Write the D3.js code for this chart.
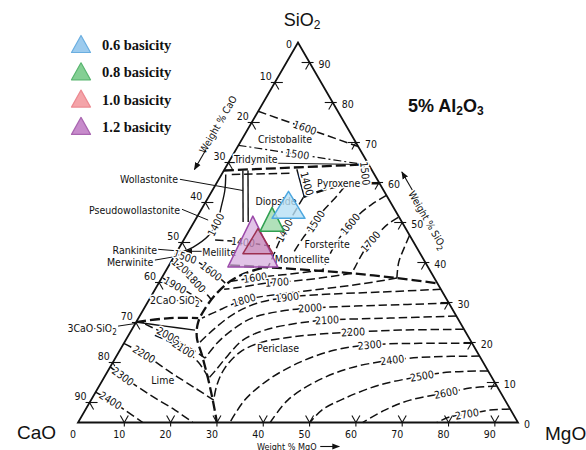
<!DOCTYPE html>
<html>
<head>
<meta charset="utf-8">
<script src="https://cdn.jsdelivr.net/npm/d3@7/dist/d3.min.js"></script>
<style>
  html, body { margin: 0; padding: 0; background: #fff; }
  svg { display: block; }
  .narrow { font-family: "Liberation Sans Narrow", "DejaVu Sans Condensed", "Arial Narrow", sans-serif; fill: #111; }
  .halo { stroke: #fff; stroke-width: 3px; paint-order: stroke; stroke-linejoin: round; }
  .big { font-family: "Liberation Sans", Arial, sans-serif; fill: #111; }
  .legend { font-family: "Liberation Serif", "Times New Roman", serif; font-weight: bold; fill: #111; }
</style>
</head>
<body>
<svg id="chart" width="586" height="450"></svg>
<script>
// CaO–MgO–SiO2 liquidus section at 5 % Al2O3.
// Every composition is [MgO, SiO2] in weight %; CaO is the remainder of 95 %.
const TOTAL = 95;
const tickValues = [0, 10, 20, 30, 40, 50, 60, 70, 80, 90];

// Slag compositions by basicity
const basicity = ["0.6", "0.8", "1.0", "1.2"];
const slagMgO  = [18.8, 17.0, 16.7, 16.2];
const slagSiO2 = [53.3, 49.8, 44.3, 43.1];

// --- silica, tridymite and pyroxene region ---
const iso1600Silica = [[0, 77.8], [26, 69]];
const inversionCristobaliteTridymite = [[0, 69.3], [29.5, 64.5]];
const tridymiteLower = [[0, 65], [29.5, 64.5]];
const tridymiteLiquidus = [[0, 63], [29.5, 64.5]];
const wollastoniteTop = [[2.2, 62.0], [15.0, 62.3]];
const wollastoniteDiopsideA = [[4.1, 63], [10.6, 50.1]];
const wollastoniteDiopsideB = [[5.2, 63], [11.7, 50.1]];
const tridymiteDiopside = [[15.6, 63.3], [20.5, 56.6]];
const pyroxeneForsterite = [[20.5, 56.3], [25.1, 58.6], [30, 59.6], [35.2, 59.8]];
const iso1500Pyroxene = [[29.5, 64.5], [32.3, 59.8]];
const diopsideForsterite = [[20.5, 56.3], [20.5, 50.6], [20.8, 45.6], [21.4, 41.1], [21.6, 38.8]];

// --- wollastonite, melilite and dicalcium silicate region ---
const pseudowollastoniteBoundary = [[0.9, 62.0], [2.7, 58.0], [4.0, 53.8], [5.0, 50.1], [4.8, 46.6], [2.9, 43.8], [1.3, 42.8]];
const iso1400Melilite = [[6.8, 45.6], [13.1, 45.1], [19.4, 44.1]];
const isoMelilite = [[0.1, 42.1], [2.7, 41.3], [5.9, 40.1], [9.8, 37.8], [13.3, 35.6], [14.7, 34.6]];
const isoC2SUpper = [[0, 40.3], [3.0, 38.8], [7.6, 35.3], [12.1, 31.8], [13.3, 30.8]];
const isoC2SLower = [[0.3, 36.1], [3.8, 34.3], [8.0, 32.3], [11.9, 30.1]];
const c3sUpper = [[0, 25.1], [6.8, 26.1], [12.9, 26.1]];
const c3sLower = [[0, 25.1], [6.7, 24.1], [13.7, 23.1]];

// --- lime field isotherms ---
const iso2000Lime = [[2.2, 24.6], [8.5, 21.8], [14.9, 18.6], [19.4, 16.1]];
const iso2100Lime = [[5.7, 21.8], [13.5, 18.4], [18.4, 15.1], [22.7, 11.1]];
const iso2200Lime = [[0, 19.8], [6.0, 16.9], [13.6, 12.6], [21.0, 8.6], [26.5, 5.6]];
const iso2300Lime = [[0, 13.9], [4.6, 11.1], [12.1, 6.9], [19.4, 3.1], [24.8, 0]];
const iso2400Lime = [[0, 7.6], [4.1, 5.6], [8.6, 3.1], [14.0, 0]];

// --- field boundaries of periclase ---
const forsteritePericlase = [[13.2, 39.3], [21.6, 38.8], [31, 38.1], [40.4, 37.3], [50.8, 36.1], [60.2, 34.8]];
const limePericlase = [[20.4, 38.6], [17.4, 37.3], [15.2, 35.3], [13.8, 32.3], [13.2, 28.8], [13.4, 25.1],
                       [15.0, 21.3], [18.3, 16.9], [22.5, 11.1], [26.3, 5.6], [30, 0]];

// --- forsterite field isotherms ---
const iso1500Fo = [[28.1, 59.0], [27.3, 55.6], [26.4, 52.6], [26.1, 49.3], [25.5, 46.1], [25.3, 42.6]];
const iso1600Fo = [[38.2, 56.8], [36.2, 54.6], [34.6, 51.8], [33.8, 48.6], [33.3, 45.1], [33.4, 41.6], [33.8, 38.1]];
const iso1700Fo = [[43.5, 51.3], [42.1, 49.6], [41.2, 47.3], [40.4, 44.3], [40.3, 41.1], [40.4, 38.8], [40.4, 37.3]];
const iso1800Fo = [[48.2, 46.8], [48.6, 43.6], [49.2, 40.1], [50.8, 36.1]];

// --- periclase field isotherms ---
const iso1600Per = [[33.9, 38.1], [27.2, 37.1], [20.7, 36.3], [15.4, 35.3]];
const iso1700Per = [[40.4, 37.3], [34.2, 36.1], [28.1, 35.3], [23.0, 34.8], [18.1, 33.8], [14.9, 33.3]];
const iso1800Per = [[50.8, 36.1], [43.6, 34.6], [35.6, 33.3], [27.6, 32.1], [20.5, 30.6], [15.8, 27.6], [13.7, 26.1]];
const iso1900Per = [[61.7, 33.3], [48.9, 32.6], [38.4, 32.1], [29.5, 31.3], [23.7, 29.8], [20.2, 27.3], [17.8, 23.6], [16.3, 20.1]];
const iso2000Per = [[65.1, 29.8], [50.5, 29.3], [35.8, 28.6], [29.7, 27.8], [24.5, 26.1], [21.7, 23.1], [20.1, 19.8], [19.4, 16.1]];
const iso2100Per = [[68.4, 26.6], [54.3, 26.1], [41.0, 25.6], [34.9, 24.8], [28.8, 23.1], [25.3, 20.6], [24.0, 16.9], [23.2, 13.1], [22.7, 11.1]];
const iso2200Per = [[71.6, 23.3], [58.0, 23.1], [48.1, 22.6], [41.2, 22.1], [35.1, 21.3], [29.7, 20.1], [26.2, 17.6], [24.9, 13.6], [25.3, 9.4], [26.5, 5.6]];
const iso2300Per = [[75.1, 19.8], [63.9, 19.8], [53.4, 19.4], [46.4, 18.1], [40.4, 15.1], [35.7, 10.6], [33.2, 5.6], [32.8, 0]];
const iso2400Per = [[78.4, 16.6], [67.8, 16.4], [60.0, 15.6], [51.9, 13.6], [46.1, 10.1], [42.5, 5.6], [41.5, 0]];
const iso2500Per = [[82.1, 12.9], [74.0, 12.6], [68.5, 11.6], [60.5, 9.4], [54.6, 6.1], [51.1, 3.1], [50.1, 0]];
const iso2600Per = [[85.8, 9.1], [80.3, 8.6], [75.8, 7.4], [68.9, 5.6], [64.7, 3.1], [61.5, 0]];
const iso2700Per = [[91.6, 3.4], [87.4, 3.1], [82.9, 2.1], [79.6, 1.4], [77.5, 0]];

// --- leader lines from phase names ---
const wollastonitePointer = [[-8.4, 60.8], [6.6, 58.0]];
const pseudowollastonitePointer = [[-4.2, 53.3], [2.8, 50.6]];
const rankinitePointer = [[-4.4, 43.3], [1.3, 42.8]];
const merwinitePointer = [[-3.7, 40.6], [0.8, 41.6]];
const c3sPointer = [[-3.4, 24.1], [0.3, 24.8]];
const melilitePointer = [[5.8, 42.8], [1.9, 42.8]];

// ---------------- styling ----------------
const STYLES = {
  solid:   { w: 1.4, dash: null },
  thin:    { w: 1.0, dash: null },
  iso:     { w: 1.5, dash: "8.5,3.8" },
  bound:   { w: 2.3, dash: "10,4" },
  dashdot: { w: 1.2, dash: "8,3,2,3" }
};
const slagFill    = ["#b6e0f5", "#9ed9a9", "#a8467c", "#d4aadd"];
const slagOpacity = [0.8, 0.8, 0.3, 0.7];
const slagStroke  = ["#4ea8e0", "#2f9f50", "#9c2f50", "#9b4aa9"];
const slagWidth   = [33, 24, 30, 50];
const slagHeight  = [27, 24, 25, 51];
const legendFill   = ["#9ccbee", "#84cf94", "#f4a4a9", "#c78bcb"];
const legendStroke = ["#6aaee0", "#58b56f", "#ec8a92", "#a966b0"];

// ---------------- scales ----------------
const svg = d3.select("#chart");
const x = d3.scaleLinear().domain([0, TOTAL]).range([78, 518]);
const y = d3.scaleLinear().domain([0, TOTAL]).range([422.5, 42.5]);
// ternary → screen: horizontal position is MgO plus half of SiO2
const toXY = ([m, s]) => [x(m + s / 2), y(s)];
const curve = d3.line().x(d => toXY(d)[0]).y(d => toXY(d)[1]).curve(d3.curveCatmullRom.alpha(0.5));

const defs = svg.append("defs");
defs.append("marker").attr("id", "arrow").attr("viewBox", "0 0 10 10")
  .attr("refX", 9).attr("refY", 5).attr("markerWidth", 7).attr("markerHeight", 7)
  .attr("orient", "auto-start-reverse")
  .append("path").attr("d", "M0,1 L10,5 L0,9 z").attr("fill", "#111");

const gLines = svg.append("g").attr("fill", "none").attr("stroke", "#111")
  .attr("stroke-linecap", "butt").attr("stroke-linejoin", "round");

const linework = [
  [iso1600Silica, "iso"], [inversionCristobaliteTridymite, "dashdot"], [tridymiteLower, "thin"],
  [tridymiteLiquidus, "bound"], [wollastoniteTop, "iso"], [wollastoniteDiopsideA, "solid"],
  [wollastoniteDiopsideB, "solid"], [tridymiteDiopside, "solid"], [pyroxeneForsterite, "bound"],
  [iso1500Pyroxene, "iso"], [diopsideForsterite, "iso"],
  [pseudowollastoniteBoundary, "solid"], [iso1400Melilite, "iso"], [isoMelilite, "iso"],
  [isoC2SUpper, "iso"], [isoC2SLower, "iso"], [c3sUpper, "bound"], [c3sLower, "solid"],
  [iso2000Lime, "iso"], [iso2100Lime, "iso"], [iso2200Lime, "iso"], [iso2300Lime, "iso"], [iso2400Lime, "iso"],
  [forsteritePericlase, "bound"], [limePericlase, "bound"],
  [iso1500Fo, "iso"], [iso1600Fo, "iso"], [iso1700Fo, "iso"], [iso1800Fo, "iso"],
  [iso1600Per, "iso"], [iso1700Per, "iso"], [iso1800Per, "iso"], [iso1900Per, "iso"], [iso2000Per, "iso"],
  [iso2100Per, "iso"], [iso2200Per, "iso"], [iso2300Per, "iso"], [iso2400Per, "iso"], [iso2500Per, "iso"],
  [iso2600Per, "iso"], [iso2700Per, "iso"],
  [wollastonitePointer, "thin"], [pseudowollastonitePointer, "thin"], [rankinitePointer, "thin"],
  [merwinitePointer, "thin"], [c3sPointer, "thin"]
];

linework.forEach(([pts, kind]) => {
  const st = STYLES[kind];
  gLines.append("path").attr("d", curve(pts))
    .attr("stroke-width", st.w).attr("stroke-dasharray", st.dash);
});
gLines.append("path").attr("d", curve(melilitePointer)).attr("stroke-width", 1)
  .attr("marker-end", "url(#arrow)");

// triangle frame
const corners = [[0, 0], [TOTAL, 0], [0, TOTAL]];
svg.append("path").attr("d", d3.line().x(d => toXY(d)[0]).y(d => toXY(d)[1])(corners) + "Z")
  .attr("fill", "none").attr("stroke", "#111").attr("stroke-width", 1.8).attr("stroke-linejoin", "miter");

// tick marks: arms along the grid directions of the other two components
const c60 = 0.5, s60 = Math.sqrt(3) / 2;
const sides = [
  { pos: v => [v, 0], arms: [[[0, 0], [-c60, -s60], 8], [[0, 0], [c60, -s60], 8], [[0, 0], [0, 1], 4]] },
  { pos: v => [0, TOTAL - v], arms: [[[-4, 0], [1, 0], 12], [[0, 0], [c60, s60], 8]] },
  { pos: v => [TOTAL - v, v], arms: [[[4, 0], [-1, 0], 12], [[0, 0], [-c60, s60], 8]] }
];
const gTicks = svg.append("g").attr("stroke", "#111").attr("stroke-width", 1.1);
sides.forEach(side => {
  tickValues.filter(v => v > 0).forEach(v => {
    const [px, py] = toXY(side.pos(v));
    side.arms.forEach(([[ox, oy], [dx, dy], len]) => {
      gTicks.append("line")
        .attr("x1", px + ox).attr("y1", py + oy)
        .attr("x2", px + ox + dx * len).attr("y2", py + oy + dy * len);
    });
  });
});

// tick labels
const gTickText = svg.append("g").attr("class", "narrow").attr("font-size", "10.5px");
tickValues.forEach(v => {
  const [bx, by] = toXY([v, 0]);
  gTickText.append("text").attr("x", bx - 5).attr("y", by + 15.5).attr("text-anchor", "middle").text(v);
  const [lx, ly] = toXY([0, TOTAL - v]);
  gTickText.append("text").attr("text-anchor", "end")
    .attr("x", v === 0 ? lx - 6 : lx - 3).attr("y", v === 0 ? ly + 5 : ly - 3).text(v);
  const [rx, ry] = toXY([TOTAL - v, v]);
  gTickText.append("text").attr("x", v === 0 ? rx + 6 : rx + 9).attr("y", ry + 5).text(v);
});

// isotherm labels sit on their curve, turned along it
const isoLabels = [
  [iso1600Silica, "1600", [12.1, 73.8]], [inversionCristobaliteTridymite, "1500", [13.7, 67.5]],
  [iso1500Pyroxene, "1500", [30.8, 62.3]], [diopsideForsterite, "1400", [20.2, 48.1]],
  [tridymiteDiopside, "1400", [19.8, 59.8], 6],
  [pseudowollastoniteBoundary, "1400", [4.8, 49.6]], [iso1400Melilite, "1400", [13.1, 45.1]],
  [isoMelilite, "1500", [2.4, 41.3]], [isoMelilite, "1600", [9.8, 37.8]],
  [isoC2SUpper, "1200", [3.2, 38.6]], [isoC2SUpper, "1800", [7.8, 34.8]], [isoC2SLower, "1900", [3.8, 34.3]],
  [iso2000Lime, "2000", [8.5, 21.8]], [iso2100Lime, "2100", [13.5, 18.4]], [iso2200Lime, "2200", [5.8, 17.4]],
  [iso2300Lime, "2300", [4.0, 11.4]], [iso2400Lime, "2400", [4.2, 5.4]],
  [iso1500Fo, "1500", [26.6, 50.1]], [iso1600Fo, "1600", [34.0, 49.6]], [iso1700Fo, "1700", [40.4, 45.3]],
  [iso1600Per, "1600", [20.2, 36.1]], [iso1700Per, "1700", [25.4, 35.1]], [iso1800Per, "1800", [20.5, 30.6]],
  [iso1900Per, "1900", [29.5, 31.3]], [iso2000Per, "2000", [35.8, 28.6]], [iso2100Per, "2100", [41.0, 25.6]],
  [iso2200Per, "2200", [48.0, 22.8]], [iso2300Per, "2300", [53.2, 19.6]], [iso2400Per, "2400", [59.9, 15.9]],
  [iso2500Per, "2500", [68.3, 11.9]], [iso2600Per, "2600", [75.6, 7.6]], [iso2700Per, "2700", [82.9, 2.1]]
];
function placeOnCurve(pts, target, offset) {
  const tmp = svg.append("path").attr("d", curve(pts)).attr("fill", "none");
  const node = tmp.node(), L = node.getTotalLength();
  const [tx, ty] = toXY(target);
  let best = 0, bd = Infinity;
  for (let s = 0; s <= L; s += 0.5) {
    const p = node.getPointAtLength(s);
    const d = (p.x - tx) ** 2 + (p.y - ty) ** 2;
    if (d < bd) { bd = d; best = s; }
  }
  const p = node.getPointAtLength(best);
  const a = node.getPointAtLength(Math.max(0, best - 4));
  const b = node.getPointAtLength(Math.min(L, best + 4));
  let ang = Math.atan2(b.y - a.y, b.x - a.x) * 180 / Math.PI;
  if (ang > 90) ang -= 180;
  if (ang < -90) ang += 180;
  tmp.remove();
  let px = p.x, py = p.y;
  if (offset) {
    const r = ang * Math.PI / 180;
    px += Math.sin(r) * offset; py -= Math.cos(r) * offset;
  }
  return { x: px, y: py, ang };
}
const gIso = svg.append("g").attr("class", "narrow halo").attr("font-size", "10.5px");
isoLabels.forEach(([pts, txt, at, off]) => {
  const p = placeOnCurve(pts, at, off);
  gIso.append("text").attr("transform", `translate(${p.x},${p.y}) rotate(${p.ang})`)
    .attr("text-anchor", "middle").attr("dy", "0.35em").text(txt);
});

// phase field names
const phaseLabels = [
  ["Cristobalite", [9.3, 70.8]], ["Tridymite", [5.5, 65.8]], ["Pyroxene", [26.4, 59.8]],
  ["Diopside", [15.1, 55.3]], ["Forsterite", [31.5, 44.6]], ["Monticellite", [28.0, 40.8]],
  ["Melilite", [9.2, 42.6]], ["Periclase", [33.9, 18.6]], ["Lime", [13.0, 10.6]],
  ["2CaO·SiO|2", [5.6, 30.6]],
  ["Wollastonite", [-8.8, 60.8], "end"], ["Pseudowollastonite", [-4.5, 53.1], "end"],
  ["Rankinite", [-4.5, 43.1], "end"], ["Merwinite", [-3.8, 40.1], "end"],
  ["3CaO·SiO|2", [-3.4, 23.6], "end"]
];
const gPhase = svg.append("g").attr("class", "narrow halo").attr("font-size", "10.5px");
phaseLabels.forEach(([txt, at, anchor]) => {
  const [px, py] = toXY(at);
  const t = gPhase.append("text").attr("x", px).attr("y", py).attr("dy", "0.35em")
    .attr("text-anchor", anchor || "middle");
  const [main, sub] = txt.split("|");
  t.append("tspan").text(main);
  if (sub) t.append("tspan").attr("font-size", "8px").attr("dy", "3").text(sub);
});

// slag compositions
function triPath(cx, cy, w, h) {
  return `M${cx},${cy - 2 * h / 3} L${cx + w / 2},${cy + h / 3} L${cx - w / 2},${cy + h / 3} Z`;
}
const gSlag = svg.append("g");
d3.range(basicity.length).reverse().forEach(i => {
  const [cx, cy] = toXY([slagMgO[i], slagSiO2[i]]);
  gSlag.append("path").attr("d", triPath(cx, cy, slagWidth[i], slagHeight[i]))
    .attr("fill", slagFill[i]).attr("fill-opacity", slagOpacity[i])
    .attr("stroke", slagStroke[i]).attr("stroke-width", 1.5).attr("stroke-linejoin", "round");
});

// axis titles along each side
const [ax0, ay0] = toXY([0, TOTAL]);
const [cx0, cy0] = toXY([0, 0]);
const [mx0, my0] = toXY([TOTAL, 0]);
function alongLeft(cao, out) { const [px, py] = toXY([0, TOTAL - cao]); return [px - s60 * out, py - c60 * out]; }
function alongRight(si, out) { const [px, py] = toXY([TOTAL - si, si]); return [px + s60 * out, py - c60 * out]; }

const gAxis = svg.append("g").attr("class", "narrow").attr("font-size", "10px");
const [lt, lty] = alongLeft(24, 28);
gAxis.append("text").attr("transform", `translate(${lt},${lty}) rotate(-60)`)
  .attr("text-anchor", "middle").attr("dy", "0.35em").text("Weight % CaO");
const la = alongLeft(30, 26), lb = alongLeft(35, 26);
gAxis.append("line").attr("x1", la[0]).attr("y1", la[1]).attr("x2", lb[0]).attr("y2", lb[1])
  .attr("stroke", "#111").attr("stroke-width", 1.1).attr("marker-end", "url(#arrow)");

const [rt, rty] = alongRight(47.7, 23);
const rtt = gAxis.append("text").attr("transform", `translate(${rt},${rty}) rotate(60)`)
  .attr("text-anchor", "middle").attr("dy", "0.35em");
rtt.append("tspan").text("Weight % SiO");
rtt.append("tspan").attr("font-size", "8px").attr("dy", "3").text("2");
const ra = alongRight(55, 25), rb = alongRight(59.5, 25);
gAxis.append("line").attr("x1", ra[0]).attr("y1", ra[1]).attr("x2", rb[0]).attr("y2", rb[1])
  .attr("stroke", "#111").attr("stroke-width", 1.1).attr("marker-end", "url(#arrow)");

gAxis.append("text").attr("x", x(51.5)).attr("y", cy0 + 27).attr("font-size", "9px")
  .attr("text-anchor", "end").text("Weight % MgO");
gAxis.append("line").attr("x1", x(52.3)).attr("y1", cy0 + 24).attr("x2", x(56.4)).attr("y2", cy0 + 24)
  .attr("stroke", "#111").attr("stroke-width", 1.1).attr("marker-end", "url(#arrow)");

// component names at the corners
const gBig = svg.append("g").attr("class", "big").attr("font-size", "19px");
const si = gBig.append("text").attr("x", ax0 + 4).attr("y", ay0 - 16.5).attr("text-anchor", "middle").attr("font-size", "18px");
si.append("tspan").text("SiO");
si.append("tspan").attr("font-size", "12px").attr("dy", "3").text("2");
gBig.append("text").attr("x", cx0 - 22).attr("y", cy0 + 16.5).attr("text-anchor", "end").text("CaO");
gBig.append("text").attr("x", mx0 + 27).attr("y", my0 + 17.5).text("MgO");
const al = gBig.append("text").attr("x", 408).attr("y", 112).attr("font-weight", "bold").attr("font-size", "18px");
al.append("tspan").text("5% Al");
al.append("tspan").attr("font-size", "12px").attr("dy", "3").text("2");
al.append("tspan").attr("dy", "-3").text("O");
al.append("tspan").attr("font-size", "12px").attr("dy", "3").text("3");

// legend
const gLeg = svg.append("g");
basicity.forEach((b, i) => {
  const cy = 44 + i * 27.3;
  gLeg.append("path").attr("d", `M81,${cy - 8.5} L90.5,${cy + 8.5} L71.5,${cy + 8.5} Z`)
    .attr("fill", legendFill[i]).attr("stroke", legendStroke[i]).attr("stroke-width", 1.2)
    .attr("stroke-linejoin", "round");
  gLeg.append("text").attr("class", "legend").attr("font-size", "14.5px")
    .attr("x", 102).attr("y", cy + 6).text(`${b} basicity`);
});
</script>
</body>
</html>
